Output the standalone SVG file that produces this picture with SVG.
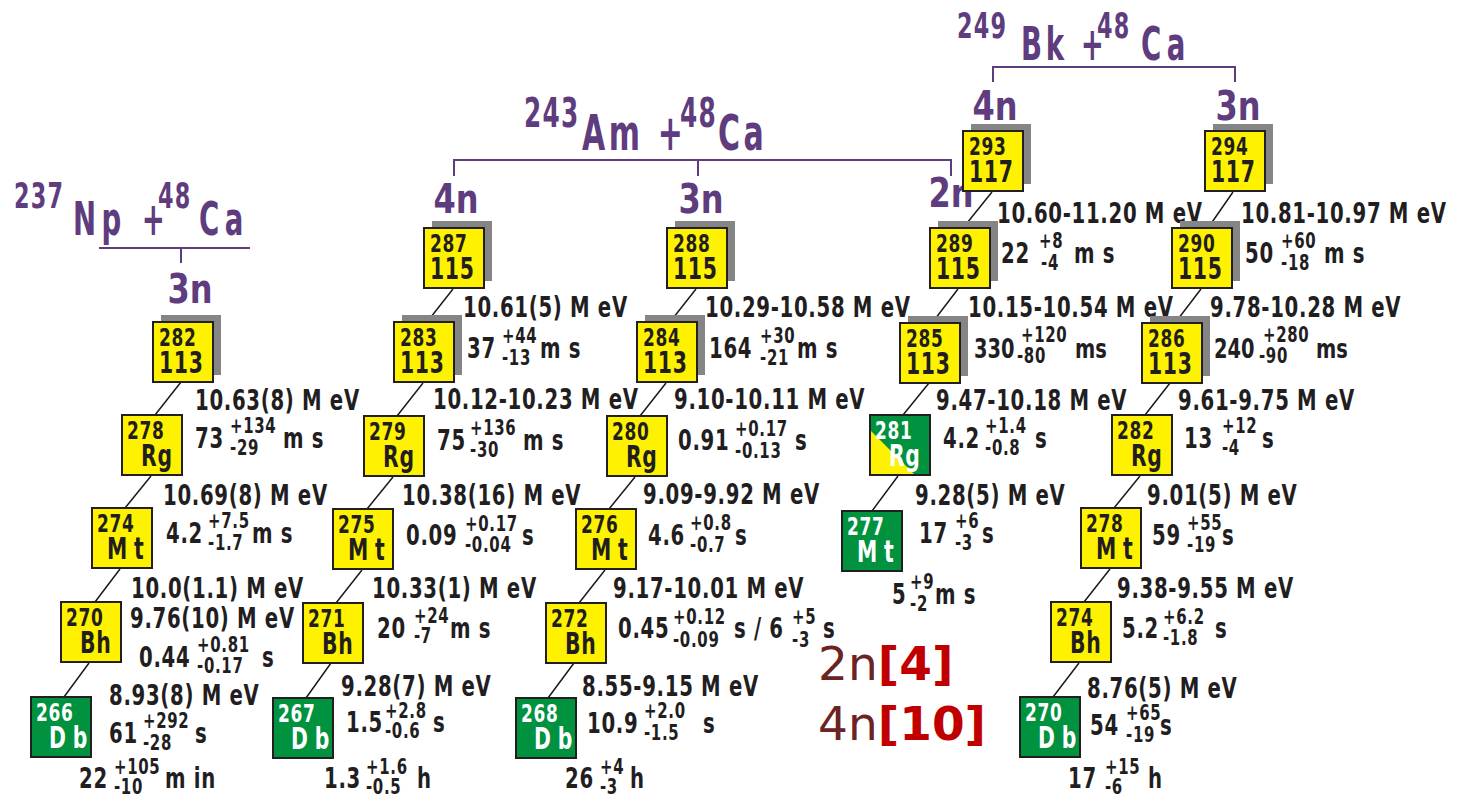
<svg xmlns="http://www.w3.org/2000/svg" width="1457" height="798" viewBox="0 0 1457 798">
<style>
text{font-family:"DejaVu Sans","Liberation Sans",sans-serif;font-weight:bold;fill:#221e1f}
.c{transform-box:fill-box;transform-origin:0 0}
.m{font-size:25px;letter-spacing:1px;transform:scale(0.68,1)}
.e{font-size:30px;letter-spacing:1px;transform:scale(0.68,1)}
.e.sp{letter-spacing:10px}
.l{font-size:29px;letter-spacing:1px;transform:scale(0.68,1)}
.s{font-size:22px;letter-spacing:1px;transform:scale(0.68,1)}
.a{font-size:27px;transform:scale(0.72,1)}
.w{fill:#ffffff}
.rx{font-size:46px;letter-spacing:9px;fill:#5e3c7e;transform:scale(0.6,1)}
.rx.rx2{font-size:50px;letter-spacing:6px}
.rx.rx3{letter-spacing:6px}
.rs{font-size:36px;letter-spacing:2px;fill:#5e3c7e;transform:scale(0.62,1)}
.rs.rs2{font-size:40px}
.ch{font-size:40px;fill:#5e3c7e;text-anchor:middle;transform-box:fill-box;transform-origin:50% 50%;transform:scale(0.8,1)}
.big{font-size:47px;font-weight:normal;fill:#6b2324}
.ref{font-weight:bold;fill:#c00000}
.sh{fill:#858585}
.by{fill:#fff200;stroke:#231f20;stroke-width:2}
.bg{fill:#00923f;stroke:#231f20;stroke-width:2}
.bo{fill:none;stroke:#231f20;stroke-width:2}
.pl{stroke:#5e3c7e;stroke-width:2;fill:none}
.dl{stroke:#1a1a1a;stroke-width:1.5;fill:none}
</style>

<g id="reactions">
  <g id="rx-np">
    <text class="c rs" x="14" y="208">237</text>
    <text class="c rx" x="73" y="235">Np +</text>
    <text class="c rs" x="158" y="208">48</text>
    <text class="c rx" x="199" y="235">Ca</text>
    <path class="pl" d="M99,248H250M181,248V263"/>
    <text class="ch" x="190" y="303">3n</text>
  </g>
  <g id="rx-am">
    <text class="c rs rs2" x="524" y="127">243</text>
    <text class="c rx rx2" x="582" y="150">Am +</text>
    <text class="c rs rs2" x="680" y="127">48</text>
    <text class="c rx rx2" x="718" y="150">Ca</text>
    <path class="pl" d="M454,176V160H951V176M698,160V176"/>
    <text class="ch" x="456" y="213">4n</text>
    <text class="ch" x="701" y="213">3n</text>
    <text class="ch" x="951" y="207">2n</text>
  </g>
  <g id="rx-bk">
    <text class="c rs" x="957" y="38">249</text>
    <text class="c rx rx3" x="1021" y="60">Bk +</text>
    <text class="c rs" x="1097" y="38">48</text>
    <text class="c rx" x="1141" y="60">Ca</text>
    <path class="pl" d="M993,82V67H1235V82"/>
    <text class="ch" x="995" y="120">4n</text>
    <text class="ch" x="1238" y="120">3n</text>
  </g>
</g>

<g id="connectors">
  <path class="dl" d="M181,382L155,415M151,476L125,508M120,569L95,602M89,663L64,697"/>
  <path class="dl" d="M453,289L427,322M423,383L397,416M393,477L367,509M362,570L336,603M331,663L306,698"/>
  <path class="dl" d="M696,289L670,322M666,383L640,416M635,477L609,509M605,570L579,603M574,663L548,698"/>
  <path class="dl" d="M992,192L963,228M958,289L932,323M929,383L903,415M898,476L872,511"/>
  <path class="dl" d="M1233,192L1208,228M1201,289L1175,323M1170,383L1145,415M1140,476L1114,508M1110,569L1084,602M1079,663L1053,697"/>
</g>

<g id="energies">
  <text class="c l" x="195" y="410">10.63(8) M eV</text>
  <text class="c l" x="163" y="505">10.69(8) M eV</text>
  <text class="c l" x="131" y="598">10.0(1.1) M eV</text>
  <text class="c l" x="130" y="628">9.76(10) M eV</text>
  <text class="c l" x="109" y="705">8.93(8) M eV</text>
  <text class="c l" x="463" y="317">10.61(5) M eV</text>
  <text class="c l" x="433" y="409">10.12-10.23 M eV</text>
  <text class="c l" x="402" y="505">10.38(16) M eV</text>
  <text class="c l" x="372" y="598">10.33(1) M eV</text>
  <text class="c l" x="341" y="696">9.28(7) M eV</text>
  <text class="c l" x="705" y="317">10.29-10.58 M eV</text>
  <text class="c l" x="674" y="409">9.10-10.11 M eV</text>
  <text class="c l" x="643" y="504">9.09-9.92 M eV</text>
  <text class="c l" x="613" y="598">9.17-10.01 M eV</text>
  <text class="c l" x="582" y="696">8.55-9.15 M eV</text>
  <text class="c l" x="997" y="223">10.60-11.20 M eV</text>
  <text class="c l" x="968" y="317">10.15-10.54 M eV</text>
  <text class="c l" x="936" y="410">9.47-10.18 M eV</text>
  <text class="c l" x="915" y="505">9.28(5) M eV</text>
  <text class="c l" x="1241" y="223">10.81-10.97 M eV</text>
  <text class="c l" x="1210" y="317">9.78-10.28 M eV</text>
  <text class="c l" x="1178" y="410">9.61-9.75 M eV</text>
  <text class="c l" x="1147" y="505">9.01(5) M eV</text>
  <text class="c l" x="1117" y="598">9.38-9.55 M eV</text>
  <text class="c l" x="1087" y="698">8.76(5) M eV</text>
</g>

<!-- 237Np chain -->
<g id="n282-113a">
  <rect class="sh" x="161" y="315" width="60" height="60"/>
  <rect class="by" x="153" y="322" width="60" height="60"/>
  <text class="c m" x="159" y="346">282</text>
  <text class="c e" x="159" y="373">113</text>
</g>
<g id="n278-Rg-a">
  <rect class="by" x="122" y="415" width="60" height="60"/>
  <text class="c m" x="127" y="439">278</text>
  <text class="c e" x="141" y="466">Rg</text>
  <text class="c l" x="195" y="448">73</text>
  <text class="c s" x="230" y="433">+134</text>
  <text class="c s" x="230" y="455">-29</text>
  <text class="c l" x="283" y="448">m s</text>
</g>
<g id="n274-Mt-a">
  <rect class="by" x="92" y="508" width="60" height="60"/>
  <text class="c m" x="97" y="532">274</text>
  <text class="c e sp" x="107" y="559">Mt</text>
  <text class="c l" x="166" y="543">4.2</text>
  <text class="c s" x="208" y="528">+7.5</text>
  <text class="c s" x="208" y="550">-1.7</text>
  <text class="c l" x="252" y="543">m s</text>
</g>
<g id="n270-Bh-a">
  <rect class="by" x="61" y="602" width="60" height="60"/>
  <text class="c m" x="66" y="626">270</text>
  <text class="c e" x="80" y="653">Bh</text>
  <text class="c l" x="139" y="667">0.44</text>
  <text class="c s" x="197" y="652">+0.81</text>
  <text class="c s" x="197" y="673">-0.17</text>
  <text class="c l" x="262" y="667">s</text>
</g>
<g id="n266-Db">
  <rect class="bg" x="31" y="697" width="60" height="60"/>
  <text class="c m w" x="36" y="721">266</text>
  <text class="c e sp w" x="49" y="748">Db</text>
  <text class="c l" x="109" y="743">61</text>
  <text class="c s" x="143" y="728">+292</text>
  <text class="c s" x="143" y="750">-28</text>
  <text class="c l" x="195" y="743">s</text>
  <text class="c l" x="79" y="788">22</text>
  <text class="c s" x="114" y="774">+105</text>
  <text class="c s" x="114" y="794">-10</text>
  <text class="c l" x="165" y="788">m in</text>
</g>

<!-- 243Am 4n chain -->
<g id="n287-115">
  <rect class="sh" x="432" y="221" width="60" height="60"/>
  <rect class="by" x="424" y="228" width="60" height="60"/>
  <text class="c m" x="430" y="252">287</text>
  <text class="c e" x="430" y="279">115</text>
</g>
<g id="n283-113">
  <rect class="sh" x="402" y="315" width="60" height="60"/>
  <rect class="by" x="394" y="322" width="60" height="60"/>
  <text class="c m" x="400" y="346">283</text>
  <text class="c e" x="400" y="373">113</text>
  <text class="c l" x="467" y="358">37</text>
  <text class="c s" x="502" y="343">+44</text>
  <text class="c s" x="502" y="365">-13</text>
  <text class="c l" x="540" y="358">m s</text>
</g>
<g id="n279-Rg">
  <rect class="by" x="364" y="416" width="60" height="60"/>
  <text class="c m" x="369" y="440">279</text>
  <text class="c e" x="383" y="467">Rg</text>
  <text class="c l" x="437" y="450">75</text>
  <text class="c s" x="470" y="435">+136</text>
  <text class="c s" x="470" y="457">-30</text>
  <text class="c l" x="523" y="450">m s</text>
</g>
<g id="n275-Mt">
  <rect class="by" x="333" y="509" width="60" height="60"/>
  <text class="c m" x="338" y="533">275</text>
  <text class="c e sp" x="348" y="560">Mt</text>
  <text class="c l" x="406" y="545">0.09</text>
  <text class="c s" x="465" y="531">+0.17</text>
  <text class="c s" x="465" y="552">-0.04</text>
  <text class="c l" x="522" y="545">s</text>
</g>
<g id="n271-Bh">
  <rect class="by" x="303" y="603" width="60" height="60"/>
  <text class="c m" x="308" y="627">271</text>
  <text class="c e" x="322" y="654">Bh</text>
  <text class="c l" x="377" y="638">20</text>
  <text class="c s" x="414" y="623">+24</text>
  <text class="c s" x="414" y="643">-7</text>
  <text class="c l" x="450" y="638">m s</text>
</g>
<g id="n267-Db">
  <rect class="bg" x="273" y="698" width="60" height="60"/>
  <text class="c m w" x="278" y="722">267</text>
  <text class="c e sp w" x="291" y="749">Db</text>
  <text class="c l" x="346" y="732">1.5</text>
  <text class="c s" x="385" y="718">+2.8</text>
  <text class="c s" x="385" y="738">-0.6</text>
  <text class="c l" x="433" y="732">s</text>
  <text class="c l" x="324" y="788">1.3</text>
  <text class="c s" x="366" y="774">+1.6</text>
  <text class="c s" x="366" y="794">-0.5</text>
  <text class="c l" x="417" y="788">h</text>
</g>

<!-- 243Am 3n chain -->
<g id="n288-115">
  <rect class="sh" x="675" y="221" width="60" height="60"/>
  <rect class="by" x="667" y="228" width="60" height="60"/>
  <text class="c m" x="673" y="252">288</text>
  <text class="c e" x="673" y="279">115</text>
</g>
<g id="n284-113">
  <rect class="sh" x="645" y="315" width="60" height="60"/>
  <rect class="by" x="637" y="322" width="60" height="60"/>
  <text class="c m" x="643" y="346">284</text>
  <text class="c e" x="643" y="373">113</text>
  <text class="c l" x="709" y="358">164</text>
  <text class="c s" x="760" y="343">+30</text>
  <text class="c s" x="760" y="365">-21</text>
  <text class="c l" x="797" y="358">m s</text>
</g>
<g id="n280-Rg">
  <rect class="by" x="607" y="416" width="60" height="60"/>
  <text class="c m" x="612" y="440">280</text>
  <text class="c e" x="626" y="467">Rg</text>
  <text class="c l" x="678" y="450">0.91</text>
  <text class="c s" x="735" y="436">+0.17</text>
  <text class="c s" x="735" y="458">-0.13</text>
  <text class="c l" x="795" y="450">s</text>
</g>
<g id="n276-Mt">
  <rect class="by" x="576" y="509" width="60" height="60"/>
  <text class="c m" x="581" y="533">276</text>
  <text class="c e sp" x="591" y="560">Mt</text>
  <text class="c l" x="648" y="545">4.6</text>
  <text class="c s" x="690" y="530">+0.8</text>
  <text class="c s" x="690" y="552">-0.7</text>
  <text class="c l" x="735" y="545">s</text>
</g>
<g id="n272-Bh">
  <rect class="by" x="546" y="603" width="60" height="60"/>
  <text class="c m" x="551" y="627">272</text>
  <text class="c e" x="565" y="654">Bh</text>
  <text class="c l" x="618" y="638">0.45</text>
  <text class="c s" x="673" y="624">+0.12</text>
  <text class="c s" x="673" y="647">-0.09</text>
  <text class="c l" x="734" y="638">s / 6</text>
  <text class="c s" x="792" y="624">+5</text>
  <text class="c s" x="792" y="647">-3</text>
  <text class="c l" x="823" y="638">s</text>
</g>
<g id="n268-Db">
  <rect class="bg" x="516" y="698" width="60" height="60"/>
  <text class="c m w" x="521" y="722">268</text>
  <text class="c e sp w" x="534" y="749">Db</text>
  <text class="c l" x="587" y="733">10.9</text>
  <text class="c s" x="644" y="718">+2.0</text>
  <text class="c s" x="644" y="740">-1.5</text>
  <text class="c l" x="703" y="733">s</text>
  <text class="c l" x="565" y="788">26</text>
  <text class="c s" x="600" y="774">+4</text>
  <text class="c s" x="600" y="794">-3</text>
  <text class="c l" x="630" y="788">h</text>
</g>

<!-- 249Bk 4n chain -->
<g id="n293-117">
  <rect class="sh" x="971" y="124" width="60" height="60"/>
  <rect class="by" x="963" y="131" width="60" height="60"/>
  <text class="c m" x="969" y="155">293</text>
  <text class="c e" x="969" y="182">117</text>
</g>
<g id="n289-115">
  <rect class="sh" x="938" y="221" width="60" height="60"/>
  <rect class="by" x="930" y="228" width="60" height="60"/>
  <text class="c m" x="936" y="252">289</text>
  <text class="c e" x="936" y="279">115</text>
  <text class="c l" x="1001" y="263">22</text>
  <text class="c s" x="1039" y="248">+8</text>
  <text class="c s" x="1041" y="270">-4</text>
  <text class="c l" x="1074" y="263">m s</text>
</g>
<g id="n285-113">
  <rect class="sh" x="908" y="316" width="60" height="60"/>
  <rect class="by" x="900" y="323" width="60" height="60"/>
  <text class="c m" x="906" y="347">285</text>
  <text class="c e" x="906" y="374">113</text>
  <text class="c a" x="974" y="358">330</text>
  <text class="c s" x="1021" y="342">+120</text>
  <text class="c s" x="1017" y="363">-80</text>
  <text class="c a" x="1075" y="358">ms</text>
</g>
<g id="n281-Rg">
  <rect class="bg" x="870" y="415" width="60" height="60" style="stroke:none"/>
  <polygon points="870,430 870,475 915,475" fill="#fff200"/>
  <rect class="bo" x="870" y="415" width="60" height="60"/>
  <text class="c m w" x="875" y="439">281</text>
  <text class="c e w" x="889" y="466">Rg</text>
  <text class="c l" x="943" y="448">4.2</text>
  <text class="c s" x="985" y="433">+1.4</text>
  <text class="c s" x="985" y="455">-0.8</text>
  <text class="c l" x="1035" y="448">s</text>
</g>
<g id="n277-Mt">
  <rect class="bg" x="842" y="511" width="60" height="60"/>
  <text class="c m w" x="847" y="535">277</text>
  <text class="c e sp w" x="857" y="562">Mt</text>
  <text class="c l" x="919" y="543">17</text>
  <text class="c s" x="955" y="528">+6</text>
  <text class="c s" x="955" y="550">-3</text>
  <text class="c l" x="982" y="543">s</text>
  <text class="c l" x="892" y="604">5</text>
  <text class="c s" x="910" y="589">+9</text>
  <text class="c s" x="910" y="611">-2</text>
  <text class="c l" x="935" y="604">m s</text>
</g>

<!-- 249Bk 3n chain -->
<g id="n294-117">
  <rect class="sh" x="1213" y="124" width="60" height="60"/>
  <rect class="by" x="1205" y="131" width="60" height="60"/>
  <text class="c m" x="1211" y="155">294</text>
  <text class="c e" x="1211" y="182">117</text>
</g>
<g id="n290-115">
  <rect class="sh" x="1180" y="221" width="60" height="60"/>
  <rect class="by" x="1172" y="228" width="60" height="60"/>
  <text class="c m" x="1178" y="252">290</text>
  <text class="c e" x="1178" y="279">115</text>
  <text class="c l" x="1245" y="263">50</text>
  <text class="c s" x="1281" y="248">+60</text>
  <text class="c s" x="1281" y="270">-18</text>
  <text class="c l" x="1324" y="263">m s</text>
</g>
<g id="n286-113">
  <rect class="sh" x="1150" y="316" width="60" height="60"/>
  <rect class="by" x="1142" y="323" width="60" height="60"/>
  <text class="c m" x="1148" y="347">286</text>
  <text class="c e" x="1148" y="374">113</text>
  <text class="c a" x="1214" y="358">240</text>
  <text class="c s" x="1263" y="342">+280</text>
  <text class="c s" x="1259" y="363">-90</text>
  <text class="c a" x="1316" y="358">ms</text>
</g>
<g id="n282-Rg-b">
  <rect class="by" x="1112" y="415" width="60" height="60"/>
  <text class="c m" x="1117" y="439">282</text>
  <text class="c e" x="1131" y="466">Rg</text>
  <text class="c l" x="1184" y="448">13</text>
  <text class="c s" x="1222" y="433">+12</text>
  <text class="c s" x="1222" y="455">-4</text>
  <text class="c l" x="1262" y="448">s</text>
</g>
<g id="n278-Mt-b">
  <rect class="by" x="1081" y="508" width="60" height="60"/>
  <text class="c m" x="1086" y="532">278</text>
  <text class="c e sp" x="1096" y="559">Mt</text>
  <text class="c l" x="1152" y="545">59</text>
  <text class="c s" x="1187" y="530">+55</text>
  <text class="c s" x="1187" y="552">-19</text>
  <text class="c l" x="1222" y="545">s</text>
</g>
<g id="n274-Bh-b">
  <rect class="by" x="1051" y="602" width="60" height="60"/>
  <text class="c m" x="1056" y="626">274</text>
  <text class="c e" x="1070" y="653">Bh</text>
  <text class="c l" x="1122" y="638">5.2</text>
  <text class="c s" x="1163" y="624">+6.2</text>
  <text class="c s" x="1163" y="645">-1.8</text>
  <text class="c l" x="1215" y="638">s</text>
</g>
<g id="n270-Db-b">
  <rect class="bg" x="1020" y="697" width="60" height="60"/>
  <text class="c m w" x="1025" y="721">270</text>
  <text class="c e sp w" x="1038" y="748">Db</text>
  <text class="c l" x="1090" y="735">54</text>
  <text class="c s" x="1126" y="720">+65</text>
  <text class="c s" x="1126" y="742">-19</text>
  <text class="c l" x="1160" y="735">s</text>
  <text class="c l" x="1068" y="788">17</text>
  <text class="c s" x="1105" y="774">+15</text>
  <text class="c s" x="1105" y="794">-6</text>
  <text class="c l" x="1148" y="788">h</text>
</g>

<g id="legend">
  <text class="big" x="818" y="680">2n<tspan class="ref">[4]</tspan></text>
  <text class="big" x="818" y="740">4n<tspan class="ref">[10]</tspan></text>
</g>
</svg>
